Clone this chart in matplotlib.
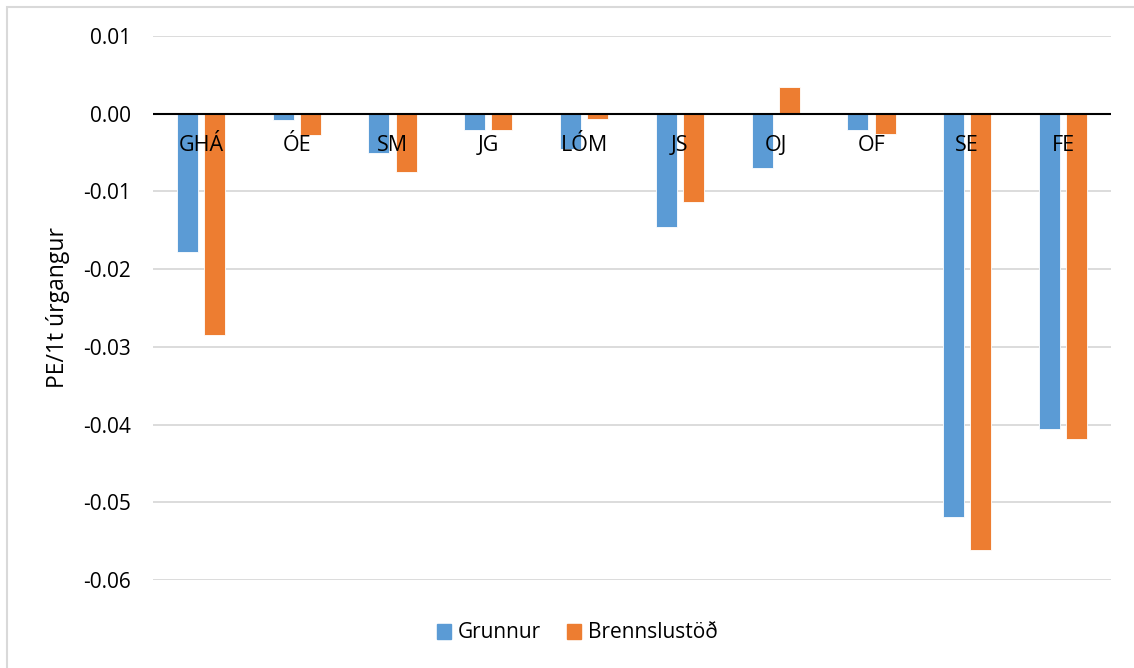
import matplotlib.pyplot as plt
from matplotlib.patches import Patch, Rectangle
import numpy as np

plt.rcParams['font.family'] = ['Open Sans', 'DejaVu Sans']

categories = ['GHÁ', 'ÓE', 'SM', 'JG', 'LÓM', 'JS', 'OJ', 'OF', 'SE', 'FE']
grunnur = [-0.0178, -0.0008, -0.0050, -0.0021, -0.0045,
           -0.0146, -0.0070, -0.0021, -0.0519, -0.0406]
brennslustod = [-0.0285, -0.00275, -0.0075, -0.0021, -0.0007,
                -0.0114, 0.0034, -0.0026, -0.0561, -0.0419]
yticks = [0.01, 0.00, -0.01, -0.02, -0.03, -0.04, -0.05, -0.06]
ytick_labels = ['0.01', '0.00', '-0.01', '-0.02', '-0.03', '-0.04', '-0.05', '-0.06']

blue = '#5B9BD5'
orange = '#ED7D31'

fig = plt.figure(figsize=(11.34, 6.68), dpi=100, facecolor='white')
ax = fig.add_axes([153/1134, 1 - 580/668, 958/1134, 544/668])

x = np.arange(len(categories))
w = 0.22
off = 0.142
ax.bar(x - off, grunnur, w, color=blue, edgecolor='white', lw=0.6, zorder=2)
ax.bar(x + off, brennslustod, w, color=orange, edgecolor='white', lw=0.6, zorder=2)

ax.set_xlim(-0.5, len(categories) - 0.5)
ax.set_ylim(-0.06, 0.01)
ax.set_yticks(yticks)
ax.set_yticklabels(ytick_labels)
ax.tick_params(axis='y', length=0, pad=16, labelsize=15)
ax.set_xticks([])
for y in yticks:
    if y != 0:
        ax.axhline(y, color='#d9d9d9', lw=1.3, zorder=0)
ax.axhline(0, color='black', lw=1.5, zorder=3)
for s in ax.spines.values():
    s.set_visible(False)

# category names sit just under the zero line, over the bars
for xi, name in zip(x, categories):
    ax.annotate(name, (xi, 0), xytext=(0, -15), textcoords='offset points',
                ha='center', va='top', fontsize=15.5, zorder=5)

fig.text(58/1134, 1 - 307/668, 'PE/1t úrgangur', rotation=90,
         ha='center', va='center', fontsize=16.5)

handles = [Patch(color=blue, label='Grunnur'), Patch(color=orange, label='Brennslustöð')]
fig.legend(handles=handles, loc='center', bbox_to_anchor=(577/1134, 1 - 633/668),
           ncol=2, frameon=False, fontsize=15, handlelength=0.7, handleheight=0.7,
           handletextpad=0.3, columnspacing=1.25)

# chart area border (left and top edges visible)
fig.patches.append(Rectangle((7/1134, -0.1), 2, 1.1 - 7/668, transform=fig.transFigure,
                             fill=False, edgecolor='#d9d9d9', lw=1.5))

fig.savefig('out.png', dpi=100)
